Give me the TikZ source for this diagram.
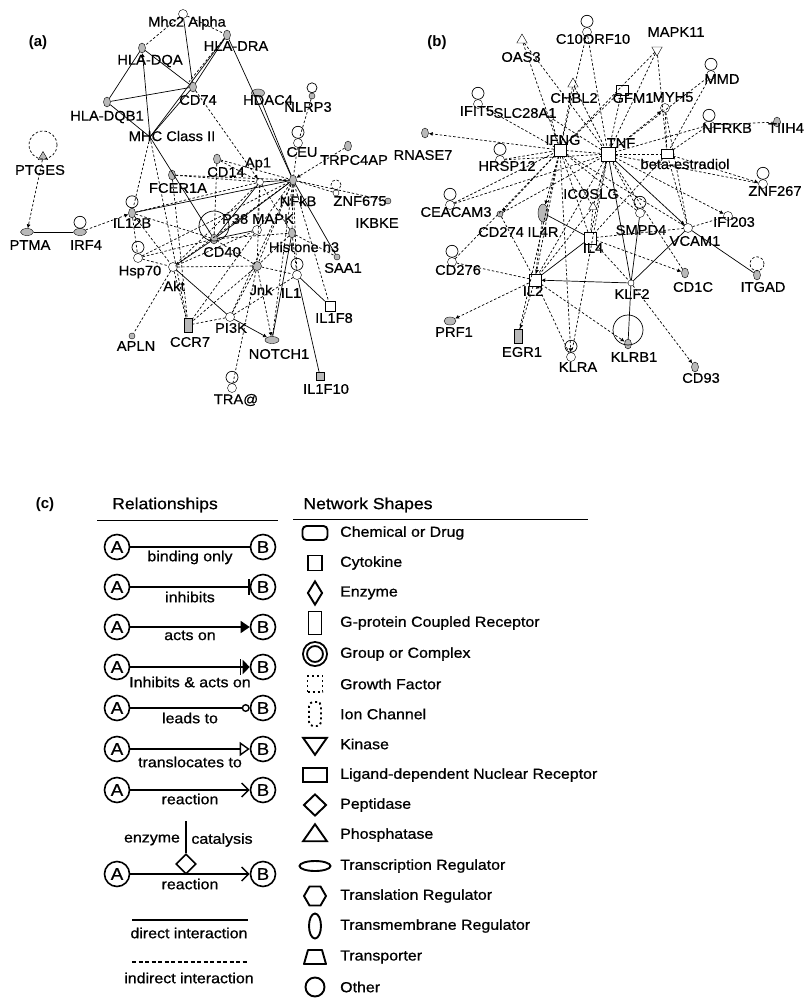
\documentclass[tikz,border=0pt]{standalone}
\usepackage{fontspec}
\setmainfont{Liberation Sans}
\newfontfamily\gfont[FakeStretch=1.05,FakeBold=0.5]{Liberation Sans}
\newfontfamily\lgfont[FakeStretch=1.10,FakeBold=0.8]{Liberation Sans}
\usetikzlibrary{shapes.geometric,arrows.meta}

\tikzstyle{gn}=[ellipse, draw, fill=gray!55, minimum width=7pt, minimum height=10pt, inner sep=0pt]
\tikzstyle{gsm}=[circle, draw, fill=gray!55, minimum size=6pt, inner sep=0pt]
\tikzstyle{oc}=[circle, draw, fill=white, minimum size=9pt, inner sep=0pt]
\tikzstyle{goc}=[circle, draw, fill=gray!55, minimum size=9pt, inner sep=0pt]
\tikzstyle{sqn}=[rectangle, draw, fill=white, minimum size=10pt, inner sep=0pt]
\tikzstyle{gsq}=[rectangle, draw, fill=gray!55, minimum size=8pt, inner sep=0pt]
\tikzstyle{grect}=[rectangle, draw, fill=gray!55, minimum width=8pt, minimum height=14pt, inner sep=0pt]
\tikzstyle{tri}=[regular polygon, regular polygon sides=3, draw, fill=white, minimum size=12pt, inner sep=0pt]
\tikzstyle{gtri}=[regular polygon, regular polygon sides=3, draw, fill=gray!55, minimum size=11pt, inner sep=0pt]
\tikzstyle{kin}=[isosceles triangle, shape border rotate=-90, isosceles triangle apex angle=60, draw, fill=white, minimum height=9pt, inner sep=0pt]
\tikzstyle{lbl}=[font={\gfont\fontsize{14}{14}\selectfont}, inner sep=0pt]
\tikzstyle{tag}=[font={\bfseries\fontsize{15}{15}\selectfont}, inner sep=0pt]
\tikzstyle{dir}=[line width=0.7pt]
\tikzstyle{ind}=[line width=0.7pt, dash pattern=on 2.5pt off 2pt]
\tikzstyle{ar}=[-{Latex[length=4pt,width=4pt]}]
% legend
\tikzstyle{rc}=[circle, draw, line width=1.6pt, minimum size=25pt, inner sep=0pt, font={\lgfont\fontsize{17}{17}\selectfont}]
\tikzstyle{rl}=[line width=1.4pt]
\tikzstyle{rlbl}=[font={\lgfont\fontsize{14.5}{14.5}\selectfont}, inner sep=0pt]
\tikzstyle{hd}=[font={\lgfont\fontsize{16}{16}\selectfont}, inner sep=0pt]
\tikzstyle{ic}=[draw, line width=1.9pt, inner sep=0pt]
\tikzstyle{stxt}=[font={\lgfont\fontsize{14.5}{14.5}\selectfont}, inner sep=0pt, anchor=west]

\begin{document}
\begin{tikzpicture}[x=1pt,y=1pt]
\useasboundingbox (0,0) rectangle (805,-999);

%% ---------- (a) ----------
\node[tag] (pa) at (38,-43) {(a)};
\node[oc]   (mhca)   at (183,-14)  {};
\node[gn]   (hladra) at (227,-35)  {};
\node[gn]   (hladqa) at (142,-48)  {};
\node[gn]   (cd74)   at (193,-87)  {};
\node[gn]   (hladqb) at (107,-102) {};
\coordinate (mhc2)   at (150,-137);
\node[gn, minimum width=13pt, minimum height=8pt] (hdac4) at (258,-93) {};
\node[gsm]  (nlrp3)  at (312,-96)  {};
\node[gtri] (ptges)  at (43,-157)  {};
\node[gn]   (cd14)   at (217,-159) {};
\node[gn]   (fcer1a) at (172,-175) {};
\node[oc, minimum size=7pt] (ap1) at (260,-182) {};
\node[oc]   (ceu)    at (298,-143) {};
\node[gn]   (nfkb)   at (293,-180) {};
\node[gn]   (trpc)   at (348,-146) {};
\node[oc, minimum size=6pt] (znf675) at (336,-193) {};
\node[gsm]  (ikbke)  at (388,-201) {};
\node[gn]   (il12b)  at (132,-213) {};
\node[gn, minimum width=13pt, minimum height=7pt] (ptma) at (27,-232) {};
\node[gn, minimum width=13pt, minimum height=7pt] (irf4) at (80,-232) {};
\node[oc]   (p38)    at (257,-230) {};
\node[gn]   (cd40)   at (214,-239) {};
\node[gn]   (hist)   at (292,-233) {};
\node[oc]   (hsp70)  at (138,-258) {};
\node[oc]   (akt)    at (173,-267) {};
\node[goc]  (jnk)    at (257,-266) {};
\node[gsm]  (saa1)   at (337,-257) {};
\node[oc]   (il1)    at (297,-275) {};
\node[sqn]  (il1f8)  at (330,-306) {};
\node[oc]   (pi3k)   at (230,-317) {};
\node[grect] (ccr7)  at (188,-325) {};
\node[gsm]  (apln)   at (132,-336) {};
\node[gn, minimum width=14pt, minimum height=7pt] (notch1) at (272,-340) {};
\node[gsq]  (il1f10) at (320,-376) {};
\node[oc]   (tra)    at (232,-388) {};

\node[lbl] (mhcal)   at (187,-23)  {Mhc2 Alpha};
\node[lbl] (hladral) at (236,-46)  {HLA-DRA};
\node[lbl] (hladqal) at (150,-61)  {HLA-DQA};
\node[lbl] (cd74l)   at (198,-100) {CD74};
\node[lbl] (hladqbl) at (107,-117) {HLA-DQB1};
\node[lbl] (mhc2l)   at (172,-136) {MHC Class II};
\node[lbl] (hdac4l)  at (268,-100) {HDAC4};
\node[lbl] (nlrp3l)  at (308,-107) {NLRP3};
\node[lbl] (ptgesl)  at (40,-170)  {PTGES};
\node[lbl] (cd14l)   at (226,-172) {CD14};
\node[lbl] (fcer1al) at (178,-188) {FCER1A};
\node[lbl] (ap1l)    at (258,-164) {Ap1};
\node[lbl] (ceul)    at (302,-152) {CEU};
\node[lbl] (nfkbl)   at (298,-201) {NFkB};
\node[lbl] (trpcl)   at (354,-160) {TRPC4AP};
\node[lbl] (znf675l) at (360,-201) {ZNF675};
\node[lbl] (ikbkel)  at (377,-223) {IKBKE};
\node[lbl] (il12bl)  at (132,-223) {IL12B};
\node[lbl] (ptmal)   at (30,-245)  {PTMA};
\node[lbl] (irf4l)   at (86,-245)  {IRF4};
\node[lbl] (p38l)    at (258,-219) {P38 MAPK};
\node[lbl] (cd40l)   at (222,-252) {CD40};
\node[lbl] (histl)   at (304,-247) {Histone h3};
\node[lbl] (hsp70l)  at (140,-272) {Hsp70};
\node[lbl] (aktl)    at (174,-286) {Akt};
\node[lbl] (jnkl)    at (261,-290) {Jnk};
\node[lbl] (saa1l)   at (343,-268) {SAA1};
\node[lbl] (il1l)    at (291,-293) {IL1};
\node[lbl] (il1f8l)  at (334,-318) {IL1F8};
\node[lbl] (pi3kl)   at (231,-328) {PI3K};
\node[lbl] (ccr7l)   at (190,-342) {CCR7};
\node[lbl] (aplnl)   at (136,-346) {APLN};
\node[lbl] (notch1l) at (279,-354) {NOTCH1};
\node[lbl] (il1f10l) at (326,-389) {IL1F10};
\node[lbl] (tral)    at (236,-400) {TRA@};

% direct links
\draw[dir] (mhca) -- (cd74);
\draw[dir] (hladqa) -- (hladqb);
\draw[dir] (hladqa) -- (cd74);
\draw[dir, ar] (mhc2) -- (hladqa);
\draw[dir] (hladra) -- (cd74);
\draw[dir] (hladra) -- (mhc2);
\draw[dir] (hladra) -- (nfkb);
\draw[dir] (hladqb) -- (cd74);
\draw[dir] (hladqb) -- (mhc2);
\draw[dir] (cd74) -- (mhc2);
\draw[dir] (hdac4) -- (nfkb);
\draw[dir] (mhc2) -- (cd40);
\draw[dir] (il12b) -- (nfkb);
\draw[dir] (ptma) -- (irf4);
\draw[dir] (cd40) -- (nfkb);
\draw[dir] (cd40) -- (ap1);
\draw[dir] (cd40) -- (p38);
\draw[dir] (cd40) -- (akt);
\draw[dir] (ap1) -- (nfkb);
\draw[dir] (akt) -- (pi3k);
\draw[dir, ar] (pi3k) -- (notch1);
\draw[dir] (il1) -- (il1f8);
\draw[dir] (il1) -- (il1f10);
\draw[dir] (nfkb) -- (saa1);
\draw[dir] (hist) -- (notch1);
% indirect links
\draw[ind] (mhca) -- (hladqa);
\draw[ind] (mhca) -- (hladra);
\draw[ind] (hladra) -- ([xshift=-4pt]cd74.north);
\draw[ind, ar] (cd74) -- (ap1);
\draw[ind] (nlrp3) -- (ceu);
\draw[ind] (ceu) -- (nfkb);
\draw[ind, ar] (trpc) -- (nfkb);
\draw[ind] (cd14) -- (ap1);
\draw[ind] (cd14) -- (nfkb);
\draw[ind] (fcer1a) -- (ap1);
\draw[ind] (fcer1a) -- (nfkb);
\draw[ind] (fcer1a) -- (ccr7);
\draw[ind] (mhc2) -- (il12b);
\draw[ind] (mhc2) -- (ccr7);
\draw[ind, ar] (ptges) -- (ptma);
\draw[ind, ar] (irf4) -- (il12b);
\draw[ind] (znf675) -- (nfkb);
\draw[ind] (ikbke) -- (nfkb);
\draw[ind] (il12b) -- (cd40);
\draw[ind] (il12b) -- (akt);
\draw[ind] (il12b) -- (hsp70);
\draw[ind] (il12b) -- (ap1);
\draw[ind] (hsp70) -- (cd40);
\draw[ind] (hsp70) -- (akt);
\draw[ind] (hsp70) -- (nfkb);
\draw[ind] (akt) -- (jnk);
\draw[ind] (akt) -- (ap1);
\draw[ind] (akt) -- (p38);
\draw[ind] (akt) -- (ccr7);
\draw[ind] (akt) -- (apln);
\draw[ind] (akt) -- (nfkb);
\draw[ind] (jnk) -- (cd40);
\draw[ind] (jnk) -- (il1);
\draw[ind] (jnk) -- (pi3k);
\draw[ind] (jnk) -- (ccr7);
\draw[ind, ar] (jnk) -- (notch1);
\draw[ind] (nfkb) -- (notch1);
\draw[ind] (nfkb) -- (jnk);
\draw[ind] (nfkb) -- (p38);
\draw[ind] (nfkb) -- (hist);
\draw[ind] (nfkb) -- (il1);
\draw[ind] (nfkb) -- (il1f8);
\draw[ind] (nfkb) -- (pi3k);
\draw[ind] (p38) -- (ccr7);
\draw[ind] (ap1) -- (p38);
\draw[ind] (ap1) -- (jnk);
\draw[ind] (ap1) -- (hist);
\draw[ind] (tra) -- (jnk);
\draw[ind] (hist) -- (il1);
\draw[ind] (hist) -- (jnk);
\draw[ind] (hist) -- (saa1);
\draw[ind] (cd40) -- (hist);
\draw[ind] (cd40) -- (cd14);
\draw[ind] (pi3k) -- (ccr7);
\draw[ind] (pi3k) -- (il1);
% loops
\draw[ind] ([yshift=12pt]ptges.center) circle[radius=14pt];
\draw[dir] ([yshift=6pt]il12b.north) circle[radius=6pt];
\draw[dir] ([yshift=6pt]irf4.north) circle[radius=6pt];
\draw[dir] ([yshift=6pt]ceu.north) circle[radius=6pt];
\draw[dir] ([yshift=13pt]cd40.center) circle[radius=15pt];
\draw[dir] ([yshift=6pt]hsp70.north) circle[radius=6pt];
\draw[dir] ([yshift=6pt]il1.north) circle[radius=6pt];
\draw[dir] ([yshift=6pt]tra.north) circle[radius=6pt];
\draw[ind] ([yshift=5pt]znf675.north) circle[radius=5pt];
\draw[dir] ([yshift=5pt]nlrp3.north) circle[radius=5pt];

%% ---------- (b) ----------
\node[tag] (pb) at (437,-43) {(b)};
\node[tri]  (oas3)    at (522,-40)  {};
\node[oc]   (c10)     at (587,-32)  {};
\node[kin]  (mapk11)  at (657,-50)  {};
\node[oc]   (mmd)     at (711,-75)  {};
\node[tri]  (chbl2)   at (573,-84)  {};
\node[sqn, minimum width=12pt] (gfm1) at (622,-90) {};
\node[oc]   (myh5)    at (665,-108) {};
\node[oc]   (ifit5)   at (478,-104) {};
\node[oc, minimum size=5pt] (slc) at (551,-118) {};
\node[oc, ellipse, minimum width=12pt, minimum height=7pt] (nfrkb) at (709,-125) {};
\node[gn]   (tiih4)   at (777,-122) {};
\node[sqn, minimum size=12pt] (ifng) at (560,-150) {};
\node[sqn, minimum size=14pt] (tnf)  at (608,-154) {};
\node[sqn, minimum width=12pt, minimum height=9pt] (estr) at (667,-154) {};
\node[gn]   (rnase7)  at (425,-133) {};
\node[oc]   (hrsp12)  at (500,-160) {};
\node[oc]   (znf267)  at (763,-184) {};
\node[tri, minimum size=10pt] (icoslg) at (593,-207) {};
\node[oc]   (ceacam3) at (450,-205) {};
\node[gsm]  (cd274)   at (500,-214) {};
\node[gn, minimum width=10pt, minimum height=18pt] (il4r) at (543,-213) {};
\node[sqn, minimum size=12pt] (il4) at (590,-238) {};
\node[oc]   (smpd4)   at (640,-213) {};
\node[oc]   (vcam1)   at (688,-228) {};
\node[oc]   (ifi203)  at (728,-216) {};
\node[oc]   (cd276)   at (452,-262) {};
\node[sqn, minimum size=12pt] (il2) at (535,-280) {};
\node[oc, minimum size=6pt] (klf2) at (631,-283) {};
\node[gn]   (cd1c)    at (685,-273) {};
\node[gn]   (itgad)   at (757,-275) {};
\node[gn, minimum width=12pt, minimum height=8pt] (prf1) at (450,-321) {};
\node[grect] (egr1)   at (518,-336) {};
\node[oc]   (klra)    at (571,-357) {};
\node[gn]   (klrb1)   at (628,-344) {};
\node[gn]   (cd93)    at (695,-367) {};

\node[lbl] (oas3l)    at (521,-57)  {OAS3};
\node[lbl] (c10l)     at (593,-39)  {C10ORF10};
\node[lbl] (mapk11l)  at (676,-32)  {MAPK11};
\node[lbl] (mmdl)     at (722,-79)  {MMD};
\node[lbl] (chbl2l)   at (574,-98)  {CHBL2};
\node[lbl] (gfm1l)    at (633,-98)  {GFM1};
\node[lbl] (myh5l)    at (673,-97)  {MYH5};
\node[lbl] (ifit5l)   at (477,-111) {IFIT5};
\node[lbl] (slcl)     at (525,-113) {SLC28A1};
\node[lbl] (nfrkbl)   at (727,-128) {NFRKB};
\node[lbl] (tiih4l)   at (786,-128) {TIIH4};
\node[lbl] (ifngl)    at (563,-140) {IFNG};
\node[lbl] (tnfl)     at (621,-143) {TNF};
\node[lbl] (estrl)    at (685,-164) {beta-estradiol};
\node[lbl] (rnase7l)  at (423,-155) {RNASE7};
\node[lbl] (hrsp12l)  at (507,-166) {HRSP12};
\node[lbl] (znf267l)  at (775,-191) {ZNF267};
\node[lbl] (icoslgl)  at (591,-194) {ICOSLG};
\node[lbl] (ceacam3l) at (456,-212) {CEACAM3};
\node[lbl] (cd274l)   at (501,-232) {CD274};
\node[lbl] (il4rl)    at (543,-232) {IL4R};
\node[lbl] (il4l)     at (593,-248) {IL4};
\node[lbl] (smpd4l)   at (641,-230) {SMPD4};
\node[lbl] (vcam1l)   at (695,-241) {VCAM1};
\node[lbl] (ifi203l)  at (734,-222) {IFI203};
\node[lbl] (cd276l)   at (458,-270) {CD276};
\node[lbl] (il2l)     at (533,-291) {IL2};
\node[lbl] (klf2l)    at (632,-294) {KLF2};
\node[lbl] (cd1cl)    at (693,-287) {CD1C};
\node[lbl] (itgadl)   at (763,-287) {ITGAD};
\node[lbl] (prf1l)    at (454,-332) {PRF1};
\node[lbl] (egr1l)    at (522,-352) {EGR1};
\node[lbl] (klral)    at (578,-367) {KLRA};
\node[lbl] (klrb1l)   at (634,-357) {KLRB1};
\node[lbl] (cd93l)    at (701,-378) {CD93};

% direct links
\draw[dir] (il4r) -- (il4);
\draw[dir] (il4) -- (il2);
\draw[dir, ar] (klf2) -- (il2);
\draw[dir] (tnf) -- (klf2);
\draw[dir] (smpd4) -- (klf2);
\draw[dir] (klf2) -- (klrb1);
\draw[dir] (klf2) -- (vcam1);
\draw[dir] (vcam1) -- (itgad);
% indirect links
\draw[ind] (oas3) -- (ifng);
\draw[ind] (oas3) -- (tnf);
\draw[ind] (c10) -- (ifng);
\draw[ind] (c10) -- (tnf);
\draw[ind] (mapk11) -- (ifng);
\draw[ind] (mapk11) -- (tnf);
\draw[ind] (mapk11) -- (estr);
\draw[ind] (mmd) -- (tnf);
\draw[ind] (mmd) -- (estr);
\draw[ind] (chbl2) -- (ifng);
\draw[ind] (chbl2) -- (tnf);
\draw[ind] (gfm1) -- (ifng);
\draw[ind] (gfm1) -- (tnf);
\draw[ind, ar] (tnf) -- (myh5);
\draw[ind] (myh5) -- (estr);
\draw[ind] (myh5) -- (vcam1);
\draw[ind] (ifit5) -- (ifng);
\draw[ind] (slc) -- (ifng);
\draw[ind] (slc) -- (tnf);
\draw[ind] (nfrkb) -- (tnf);
\draw[ind] (nfrkb) -- (estr);
\draw[ind] (tiih4) -- (nfrkb);
\draw[ind, ar] (ifng) -- (rnase7);
\draw[ind] (hrsp12) -- (ifng);
\draw[ind] (hrsp12) -- (tnf);
\draw[ind, ar] (estr) -- (znf267);
\draw[ind] (tnf) -- (znf267);
\draw[ind] (icoslg) -- (ifng);
\draw[ind] (icoslg) -- (tnf);
\draw[ind] (icoslg) -- (il4);
\draw[ind] (icoslg) -- (il2);
\draw[ind] (ceacam3) -- (ifng);
\draw[ind] (ceacam3) -- (tnf);
\draw[ind, ar] (ifng) -- (cd274);
\draw[ind] (cd274) -- (tnf);
\draw[ind] (cd274) -- (il2);
\draw[ind, ar] (ifng) -- (il4r);
\draw[ind] (il4r) -- (il2);
\draw[ind] (il4) -- (ifng);
\draw[ind] (il4) -- (tnf);
\draw[ind] (il4) -- (klf2);
\draw[ind] (il4) -- (vcam1);
\draw[ind, ar] (il4) -- (cd1c);
\draw[ind] (smpd4) -- (tnf);
\draw[ind] (smpd4) -- (ifng);
\draw[ind] (vcam1) -- (tnf);
\draw[ind] (vcam1) -- (ifng);
\draw[ind] (vcam1) -- (estr);
\draw[ind] (vcam1) -- (ifi203);
\draw[ind, ar] (tnf) -- (ifi203);
\draw[ind] (cd276) -- (il2);
\draw[ind] (cd276) -- (ifng);
\draw[ind, ar] (ifng) -- (il2);
\draw[ind] (tnf) -- (il2);
\draw[ind, ar] (il2) -- (prf1);
\draw[ind, ar] (il2) -- (egr1);
\draw[ind] (il2) -- (klra);
\draw[ind, ar] (il2) -- (klrb1);
\draw[ind] (ifng) -- (egr1);
\draw[ind, ar] (ifng) -- (klra);
\draw[ind] (tnf) -- (klra);
\draw[ind] (tnf) -- (cd1c);
\draw[ind, ar] (klf2) -- (cd93);
\draw[ind] (tnf) -- (estr);
\draw[ind] (ifng) -- (tnf);
\draw[ind] (estr) -- (il4);
\draw[ind, ar] (tnf) -- (vcam1);
% loops
\draw[dir] ([yshift=6pt]c10.north) circle[radius=6pt];
\draw[dir] ([yshift=6pt]mmd.north) circle[radius=6pt];
\draw[dir] ([yshift=6pt]ifit5.north) circle[radius=6pt];
\draw[dir] ([yshift=6pt]nfrkb.north) circle[radius=6pt];
\draw[dir] ([yshift=6pt]hrsp12.north) circle[radius=6pt];
\draw[dir] ([yshift=6pt]znf267.north) circle[radius=6pt];
\draw[dir] ([yshift=6pt]ceacam3.north) circle[radius=6pt];
\draw[dir] ([yshift=6pt]smpd4.north) circle[radius=6pt];
\draw[dir] ([yshift=6pt]cd276.north) circle[radius=6pt];
\draw[dir] ([yshift=6pt]klra.north) circle[radius=6pt];
\draw[dir] ([yshift=14pt]klrb1.center) circle[radius=15pt];
\draw[ind] ([yshift=6pt]itgad.north) circle[radius=7pt];

%% ---------- (c) ----------
\node[tag] (pc) at (45,-505) {(c)};
\node[hd] (relh) at (165,-505) {Relationships};
\node[hd] (shph) at (368,-505) {Network Shapes};
\draw[line width=0.9pt] (97,-520) -- (278,-520);
\draw[line width=0.9pt] (293,-519) -- (588,-519);

\node[rc] (a1) at (117,-547) {A};  \node[rc] (b1) at (263,-547) {B};
\node[rc] (a2) at (117,-587) {A};  \node[rc] (b2) at (263,-587) {B};
\node[rc] (a3) at (117,-627) {A};  \node[rc] (b3) at (263,-627) {B};
\node[rc] (a4) at (117,-667) {A};  \node[rc] (b4) at (263,-667) {B};
\node[rc] (a5) at (117,-708) {A};  \node[rc] (b5) at (263,-708) {B};
\node[rc] (a6) at (117,-749) {A};  \node[rc] (b6) at (263,-749) {B};
\node[rc] (a7) at (117,-790) {A};  \node[rc] (b7) at (263,-790) {B};
\node[rc] (a8) at (117,-874) {A};  \node[rc] (b8) at (263,-874) {B};

\draw[rl] (a1) -- node[rlbl, below=3pt] (r1) {binding only} (b1);
\draw[rl, -{Bar[width=16pt]}] (a2) -- node[rlbl, below=4pt] (r2) {inhibits} (b2);
\draw[rl, -{Triangle[length=9pt,width=12pt]}] (a3) -- node[rlbl, below=3pt] (r3) {acts on} (b3);
\draw[rl, -{Bar[width=16pt,sep=1.5pt] Triangle[length=7pt,width=14pt]}] (a4) -- node[rlbl, below=9pt] (r4) {Inhibits \& acts on} (b4);
\draw[rl, -{Circle[open,length=8pt]}] (a5) -- node[rlbl, below=4pt] (r5) {leads to} (b5);
\draw[rl, -{Triangle[open,length=10pt,width=14pt]}] (a6) -- node[rlbl, below=7pt] (r6) {translocates to} (b6);
\draw[rl, -{Straight Barb[length=7pt,width=14pt]}] (a7) -- node[rlbl, below=3pt] (r7) {reaction} (b7);
\draw[rl, -{Straight Barb[length=7pt,width=14pt]}] (a8) -- node[rlbl, below=4pt] (r8) {reaction} (b8);
\node[diamond, draw, line width=1.6pt, fill=white, minimum size=20pt, inner sep=0pt] (enz) at (186,-864) {};
\coordinate (cat) at (186,-821);
\draw[rl] (cat) -- (enz);
\node[rlbl] (enzl) at (152,-840) {enzyme};
\node[rlbl] (catl) at (222,-840) {catalysis};
\coordinate (d1) at (132,-920);  \coordinate (d2) at (248,-920);
\draw[rl] (d1) -- (d2);
\node[rlbl] (dirl) at (189,-933) {direct interaction};
\coordinate (i1) at (132,-962);  \coordinate (i2) at (248,-962);
\draw[rl, dash pattern=on 4pt off 2.5pt] (i1) -- (i2);
\node[rlbl] (indl) at (189,-978) {indirect interaction};

% network shapes
\node[ic, rectangle, rounded corners=4pt, minimum width=25pt, minimum height=14pt] (s1) at (315,-533) {};
\node[ic, rectangle, minimum width=14pt, minimum height=15pt] (s2) at (315,-563) {};
\node[ic, diamond, minimum width=15pt, minimum height=24pt] (s3) at (315,-593) {};
\node[ic, rectangle, minimum width=13pt, minimum height=23pt] (s4) at (315,-623) {};
\node[ic, circle, double, double distance=2pt, minimum size=20pt] (s5) at (315,-654) {};
\node[ic, rectangle, dash pattern=on 2pt off 3pt, minimum width=15pt, minimum height=16pt] (s6) at (315,-684) {};
\node[ic, rectangle, rounded corners=4pt, dash pattern=on 2pt off 3pt, minimum width=12pt, minimum height=24pt] (s7) at (315,-714) {};
\node[ic, isosceles triangle, shape border rotate=-90, isosceles triangle apex angle=70, minimum height=17pt] (s8) at (315,-744) {};
\node[ic, rectangle, minimum width=24pt, minimum height=14pt] (s9) at (315,-775) {};
\node[ic, diamond, minimum width=23pt, minimum height=22pt] (s10) at (315,-805) {};
\node[ic, isosceles triangle, shape border rotate=90, isosceles triangle apex angle=70, minimum height=17pt] (s11) at (315,-835) {};
\node[ic, ellipse, minimum width=31pt, minimum height=10pt] (s12) at (315,-866) {};
\node[ic, regular polygon, regular polygon sides=6, minimum size=22pt] (s13) at (315,-896) {};
\node[ic, ellipse, minimum width=12pt, minimum height=25pt] (s14) at (315,-926) {};
\coordinate (s15) at (315,-957);
\draw[line width=1.9pt, line join=round] (304,-964) -- (326,-964) -- (322,-950) -- (308,-950) -- cycle;
\node[ic, circle, minimum size=19pt] (s16) at (315,-987) {};

\node[stxt] (t1)  at (340,-533) {Chemical or Drug};
\node[stxt] (t2)  at (340,-563) {Cytokine};
\node[stxt] (t3)  at (340,-593) {Enzyme};
\node[stxt] (t4)  at (340,-623) {G-protein Coupled Receptor};
\node[stxt] (t5)  at (340,-654) {Group or Complex};
\node[stxt] (t6)  at (340,-684) {Growth Factor};
\node[stxt] (t7)  at (340,-714) {Ion Channel};
\node[stxt] (t8)  at (340,-744) {Kinase};
\node[stxt] (t9)  at (340,-775) {Ligand-dependent Nuclear Receptor};
\node[stxt] (t10) at (340,-805) {Peptidase};
\node[stxt] (t11) at (340,-835) {Phosphatase};
\node[stxt] (t12) at (340,-866) {Transcription Regulator};
\node[stxt] (t13) at (340,-896) {Translation Regulator};
\node[stxt] (t14) at (340,-926) {Transmembrane Regulator};
\node[stxt] (t15) at (340,-957) {Transporter};
\node[stxt] (t16) at (340,-987) {Other};
\end{tikzpicture}
\end{document}
